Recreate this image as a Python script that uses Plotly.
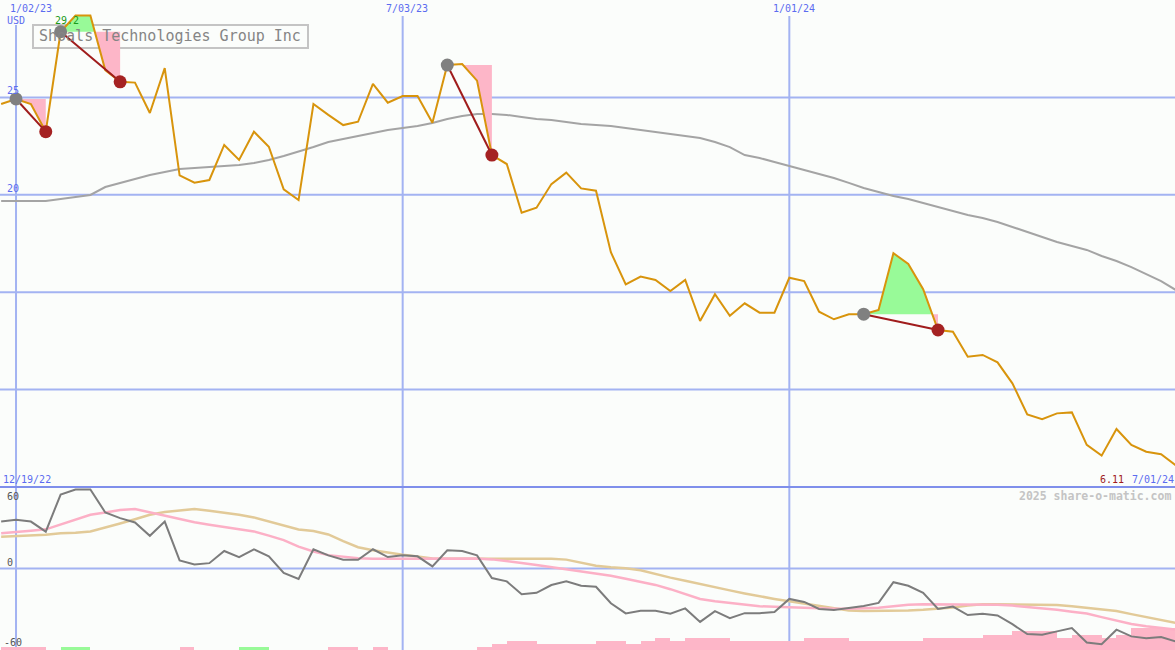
import numpy as np
import pandas as pd
import plotly.graph_objects as go

# ---------------- data ----------------
week_start = "2022-12-26"
n_weeks = 80
dates = pd.date_range(week_start, periods=n_weeks, freq="7D")

price = [24.66, 24.92, 24.66, 23.24, 28.37, 29.20, 29.20, 26.40, 25.80, 25.76,
         24.20, 26.50, 21.00, 20.62, 20.76, 22.56, 21.79, 23.24, 22.47, 20.28,
         19.73, 24.66, 24.10, 23.58, 23.75, 25.69, 24.73, 25.07, 25.07, 23.70,
         26.66, 26.71, 25.86, 22.04, 21.58, 19.08, 19.34, 20.55, 21.14, 20.33,
         20.21, 17.05, 15.40, 15.80, 15.63, 15.06, 15.63, 13.52, 14.90, 13.79,
         14.43, 13.95, 13.95, 15.74, 15.57, 14.00, 13.61, 13.87, 13.87, 14.09,
         17.00, 16.45, 15.15, 13.06, 12.97, 11.69, 11.78, 11.40, 10.32, 8.73,
         8.48, 8.78, 8.83, 7.16, 6.61, 7.98, 7.16, 6.81, 6.68, 6.11]

ma40 = [19.68, 19.68, 19.68, 19.68, 19.78, 19.89, 19.99, 20.40, 20.61, 20.81,
        21.02, 21.17, 21.32, 21.38, 21.43, 21.48, 21.53, 21.63, 21.79, 21.99,
        22.20, 22.45, 22.71, 22.86, 23.02, 23.17, 23.33, 23.43, 23.53, 23.69,
        23.89, 24.05, 24.15, 24.15, 24.10, 23.99, 23.89, 23.84, 23.74, 23.63,
        23.58, 23.53, 23.43, 23.33, 23.22, 23.12, 23.02, 22.92, 22.71, 22.45,
        22.04, 21.89, 21.68, 21.48, 21.27, 21.07, 20.86, 20.61, 20.35, 20.14,
        19.94, 19.78, 19.58, 19.37, 19.17, 18.96, 18.81, 18.60, 18.35, 18.09,
        17.83, 17.58, 17.37, 17.17, 16.86, 16.60, 16.29, 15.93, 15.57, 15.11]

osc = [38.6, 40.0, 38.6, 30.3, 60.8, 65.0, 65.0, 46.1, 41.4, 37.8,
       26.9, 38.6, 6.7, 3.3, 4.4, 14.4, 9.4, 15.8, 10.0, -3.6,
       -8.6, 15.8, 10.8, 7.2, 7.2, 15.8, 9.4, 10.8, 10.0, 1.7,
       15.0, 14.4, 10.8, -7.8, -10.6, -21.1, -20.0, -13.6, -10.6, -14.2,
       -15.0, -28.6, -36.9, -34.7, -34.7, -37.2, -32.8, -43.9, -35.0, -40.8,
       -36.7, -36.7, -35.8, -25.0, -27.5, -33.3, -34.2, -32.5, -30.8, -28.3,
       -11.3, -14.2, -20.0, -33.3, -31.3, -38.3, -37.2, -38.6, -45.8, -53.9,
       -54.4, -51.7, -48.9, -60.8, -62.3, -50.3, -55.8, -57.3, -56.4, -60.0]

sig_pink = [28.9, 29.7, 31.0, 32.2, 36.0, 40.0, 44.2, 46.0, 48.0, 48.9,
            46.1, 43.5, 41.0, 38.0, 36.0, 34.0, 32.5, 30.5, 27.0, 23.3,
            18.0, 14.0, 11.0, 9.5, 8.5, 8.1, 8.1, 8.1, 8.3, 8.5,
            8.6, 8.4, 8.2, 7.5, 6.2, 4.5, 2.8, 1.1, -0.5, -2.2,
            -3.9, -6.0, -8.5, -11.0, -13.5, -17.0, -21.0, -25.0, -27.0, -28.5,
            -30.0, -31.0, -31.5, -32.0, -32.5, -33.0, -33.0, -33.0, -32.8, -32.2,
            -31.0, -29.8, -29.4, -29.4, -29.4, -29.4, -29.4, -29.8, -30.5, -31.5,
            -32.5, -34.0, -35.5, -37.0, -40.0, -43.0, -45.6, -47.5, -49.0, -50.3]

sig_tan = [26.1, 26.5, 27.0, 27.8, 28.9, 29.3, 30.5, 33.5, 37.0, 40.5,
           44.2, 46.5, 48.0, 48.9, 47.5, 46.0, 44.2, 42.0, 38.5, 35.0,
           32.0, 30.8, 28.0, 22.5, 17.5, 15.0, 13.0, 11.3, 9.8, 8.2,
           8.1, 8.1, 8.1, 8.3, 8.5, 8.6, 8.5, 8.0, 7.3, 5.0,
           2.3, 1.0, 0.2, -1.5, -4.8, -7.5, -10.0, -12.8, -15.5, -18.0,
           -20.5, -23.0, -25.0, -27.0, -29.0, -31.0, -33.0, -34.5, -35.0, -35.0,
           -35.0, -34.5, -34.0, -33.2, -32.0, -30.5, -29.4, -29.4, -29.4, -29.4,
           -29.4, -30.0, -31.0, -32.5, -34.0, -35.0, -37.5, -40.0, -42.5, -44.7]

# signed bar values: positive = green, negative = pink (height in panel units)
bar_vals = [-2.5, -2.5, -2.5, 0, 2.5, 2.5, 0, 0, 0, 0,
            0, 0, -2.5, 0, 0, 0, 2.5, 2.5, 0, 0,
            0, 0, -2.5, -2.5, 0, -2.5, 0, 0, 0, 0,
            0, 0, -2.5, -5.3, -7.5, -7.5, -5.3, -5.3, -5.3, -5.3,
            -7.5, -7.5, -5.3, -7.5, -9.7, -7.5, -9.7, -9.7, -9.7, -7.5,
            -7.5, -7.5, -7.5, -7.5, -9.7, -9.7, -9.7, -7.5, -7.5, -7.5,
            -7.5, -7.5, -9.7, -9.7, -9.7, -9.7, -12.5, -12.5, -15.8, -15.8,
            -15.8, -9.7, -12.5, -12.5, -9.7, -12.5, -18.1, -18.1, -18.1, -18.1]

buy_idx = [1, 4, 30, 58]
sell_idx = [3, 8, 33, 63]

company = "Shoals Technologies Group Inc"
grid_dates = ["2023-01-02", "2023-07-03", "2024-01-01"]
grid_labels = ["1/02/23", "7/03/23", "1/01/24"]
price_ticks = [25, 20, 15, 10]
price_tick_labels = ["25", "20"]
osc_tick_vals = [60, 0, -60]
x_range = ["2022-12-25 11:00", "2024-06-30 13:00"]
y_range = [5, 30]
y2_range = [-67, 67]

# ---------------- style ----------------
W, H = 1175, 650
SPLIT = 487
BG = "#fbfdfb"
BLUE_TXT = "#5b6cf0"
GRID = "#a3b3f2"
SEP = "#7f8feb"
ORANGE = "#d8940c"
GREEN_FILL = "#98fa98"
PINK_FILL = "#fdb6c8"
DARKRED = "#a01c1c"
FONT = "DejaVu Sans Mono"

fig = go.Figure()

# gray moving average
fig.add_trace(go.Scatter(x=dates, y=ma40, mode="lines",
                         line=dict(color="#a4a4a4", width=2), hoverinfo="skip"))

# trade fills (between price and buy level)
t_ns = dates.asi8
for b, s in zip(buy_idx, sell_idx):
    L = price[b]
    pts = [(t_ns[b], price[b])]
    for j in range(b, s):
        x0, x1 = t_ns[j], t_ns[j + 1]
        p0, p1 = price[j], price[j + 1]
        if (p0 - L) * (p1 - L) < 0:
            xc = x0 + (L - p0) / (p1 - p0) * (x1 - x0)
            pts.append((xc, L))
        pts.append((x1, p1))
    runs, cur = [], [pts[0]]
    for pt in pts[1:]:
        cur.append(pt)
        if abs(pt[1] - L) < 1e-9:
            runs.append(cur)
            cur = [pt]
    if len(cur) > 1:
        runs.append(cur)
    for run in runs:
        diffs = [p - L for _, p in run]
        col = GREEN_FILL if sum(diffs) > 0 else PINK_FILL
        xs = [run[0][0]] + [x for x, _ in run] + [run[-1][0], run[0][0]]
        ys = [L] + [p for _, p in run] + [L, L]
        fig.add_trace(go.Scatter(x=pd.to_datetime(np.array(xs, dtype="int64")), y=ys,
                                 mode="lines", fill="toself", fillcolor=col,
                                 line=dict(width=0, color=col), hoverinfo="skip"))

# price line
fig.add_trace(go.Scatter(x=dates, y=price, mode="lines",
                         line=dict(color=ORANGE, width=2), hoverinfo="skip"))

# trade connection lines and markers
for b, s in zip(buy_idx, sell_idx):
    fig.add_trace(go.Scatter(x=[dates[b], dates[s]], y=[price[b], price[s]], mode="lines",
                             line=dict(color=DARKRED, width=2), hoverinfo="skip"))
fig.add_trace(go.Scatter(x=dates[buy_idx], y=[price[i] for i in buy_idx], mode="markers",
                         marker=dict(color="#808080", size=13, line=dict(width=0)), hoverinfo="skip"))
fig.add_trace(go.Scatter(x=dates[sell_idx], y=[price[i] for i in sell_idx], mode="markers",
                         marker=dict(color="#a52222", size=13, line=dict(width=0)), hoverinfo="skip"))

# lower panel: bars
bar_colors = [GREEN_FILL if v > 0 else PINK_FILL for v in bar_vals]
fig.add_trace(go.Bar(x=dates, y=[abs(v) for v in bar_vals], base=y2_range[0],
                     marker=dict(color=bar_colors, line=dict(width=0)),
                     width=7 * 24 * 3600 * 1000, offset=0,
                     xaxis="x2", yaxis="y2", hoverinfo="skip"))
fig.add_trace(go.Scatter(x=dates, y=sig_tan, mode="lines", line=dict(color="#e2ca98", width=2.5),
                         xaxis="x2", yaxis="y2", hoverinfo="skip"))
fig.add_trace(go.Scatter(x=dates, y=sig_pink, mode="lines", line=dict(color="#fcb0c6", width=2.5),
                         xaxis="x2", yaxis="y2", hoverinfo="skip"))
fig.add_trace(go.Scatter(x=dates, y=osc, mode="lines", line=dict(color="#7c7c7c", width=2),
                         xaxis="x2", yaxis="y2", hoverinfo="skip"))

# ---------------- shapes ----------------
def py(pix):
    return 1 - pix / H

shapes = []
for v in price_ticks:
    shapes.append(dict(type="line", xref="paper", yref="y", x0=0, x1=1, y0=v, y1=v,
                       line=dict(color=GRID, width=2), layer="below"))
for i, d in enumerate(grid_dates):
    top = 25 if i == 0 else 16
    shapes.append(dict(type="line", xref="x", yref="paper", x0=d, x1=d, y0=0, y1=py(top),
                       line=dict(color=GRID, width=2), layer="below"))
shapes.append(dict(type="line", xref="paper", yref="y2", x0=0, x1=1, y0=0, y1=0,
                   line=dict(color=GRID, width=2), layer="below"))
shapes.append(dict(type="line", xref="paper", yref="paper", x0=0, x1=1, y0=py(SPLIT), y1=py(SPLIT),
                   line=dict(color=SEP, width=2)))
shapes.append(dict(type="rect", xref="paper", yref="paper", x0=33 / W, x1=308 / W,
                   y0=py(48), y1=py(25), line=dict(color="#c4c4c4", width=2), layer="below"))

# ---------------- annotations ----------------
ann = []
def label(text, x, y, color, size=10, xanchor="left"):
    ann.append(dict(text=text, x=x / W, y=py(y), xref="paper", yref="paper",
                    xanchor=xanchor, yanchor="middle", showarrow=False,
                    font=dict(family=FONT, size=size, color=color)))

label(company, 37, 36.5, "#858585", 15)
label(grid_labels[0], 8, 9, BLUE_TXT)
label("USD", 5, 21, BLUE_TXT)
label(grid_labels[1], 384, 9, BLUE_TXT)
label(grid_labels[2], 771, 9, BLUE_TXT)
label(price_tick_labels[0], 5, 90.5, BLUE_TXT)
label(price_tick_labels[1], 5, 188.5, BLUE_TXT)
label(f"{max(price):.1f}", 53, 21, "#1a9a1a")
label("12/19/22", 1, 479, BLUE_TXT)
label(f"{price[-1]:.2f}", 1098, 479, DARKRED)
label("7/01/24", 1130, 479, BLUE_TXT)
label("<b>2025 share-o-matic.com</b>", 1173, 496, "#c4c4c4", 11.5, "right")
label(str(osc_tick_vals[0]), 5, 496, "#555555")
label(str(osc_tick_vals[1]), 5, 562, "#555555")
label(str(osc_tick_vals[2]), 2, 642, "#555555")

fig.update_layout(
    width=W, height=H,
    margin=dict(l=0, r=0, t=0, b=0),
    paper_bgcolor=BG, plot_bgcolor=BG,
    showlegend=False, bargap=0,
    xaxis=dict(range=x_range, visible=False, domain=[0, 1], anchor="y", type="date"),
    xaxis2=dict(range=x_range, visible=False, domain=[0, 1], anchor="y2", matches="x", type="date"),
    yaxis=dict(range=y_range, visible=False, domain=[py(SPLIT), 1]),
    yaxis2=dict(range=y2_range, visible=False, domain=[0, py(SPLIT)]),
    shapes=shapes, annotations=ann,
)

fig.write_html("out.html",
               config={"displayModeBar": False},
               post_script="document.body.style.margin='0';document.body.style.padding='0';"
                           "document.body.style.overflow='hidden';"
                           "document.body.style.background='" + BG + "';")
